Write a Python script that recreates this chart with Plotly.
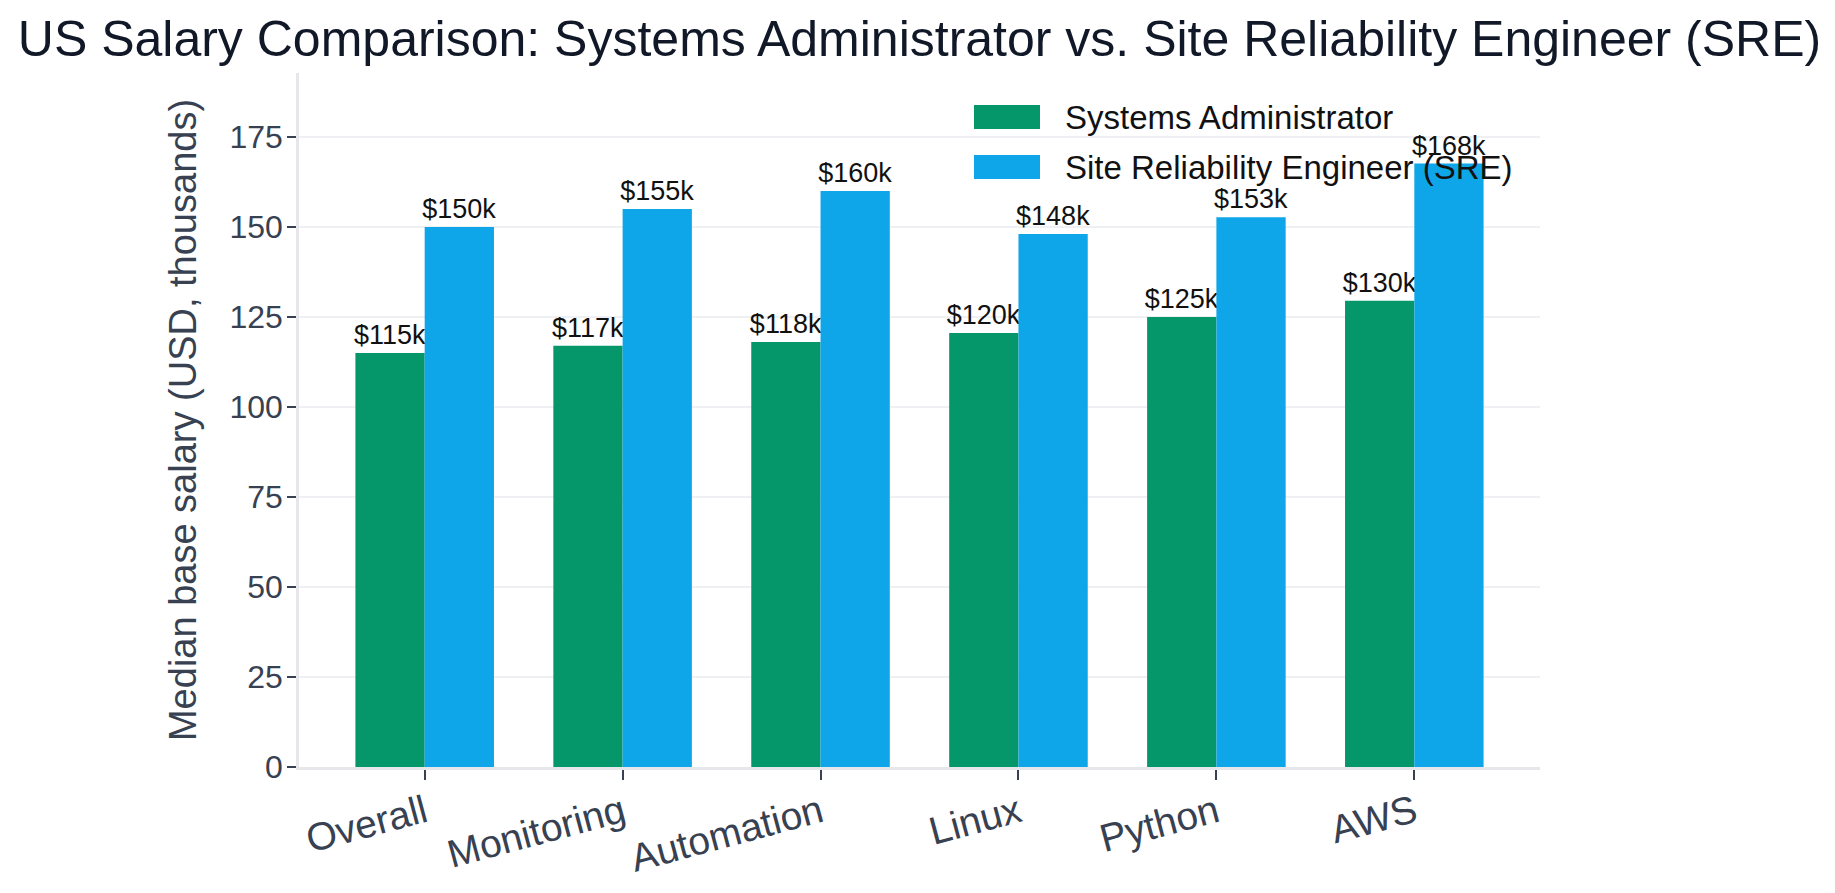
import plotly.graph_objects as go

categories = ["Overall", "Monitoring", "Automation", "Linux", "Python", "AWS"]
sysadmin = [115, 117, 118, 120.5, 125, 129.5]
sre = [150, 155, 160, 148, 152.7, 167.6]
series_names = ["Systems Administrator", "Site Reliability Engineer (SRE)"]
colors = ["#059669", "#0EA5E9"]
y_ticks = [0, 25, 50, 75, 100, 125, 150, 175]

FONT = "Liberation Sans, Arial, Helvetica, sans-serif"
W, H = 1835, 893
ML, MR, MT, MB = 299, 295, 73, 126

fig = go.Figure()
for name, vals, col in zip(series_names, [sysadmin, sre], colors):
    fig.add_trace(go.Bar(
        x=categories, y=vals, name=name, marker_color=col, marker_line_width=0,
        text=[f"${v:.0f}k" for v in vals], textposition="outside",
        textfont=dict(size=27, color="#111111", family=FONT),
        constraintext="none", cliponaxis=False, showlegend=False,
    ))

ymax = max(sysadmin + sre) * 1.15

fig.update_layout(
    width=W, height=H,
    margin=dict(l=ML, r=MR, t=MT, b=MB, pad=0),
    paper_bgcolor="white", plot_bgcolor="white",
    barmode="group", bargap=0.3, bargroupgap=0,
    font=dict(family=FONT, color="#374151"),
    title=dict(text="US Salary Comparison: Systems Administrator vs. Site Reliability Engineer (SRE)",
               x=0.5, xanchor="center", xref="paper", y=0.957, yanchor="middle", yref="container",
               font=dict(size=50, color="#111827", family=FONT)),
    xaxis=dict(range=[-0.635, len(categories) - 1 + 0.635], showgrid=False,
               showline=True, linecolor="#E5E7EB", linewidth=2.5,
               ticks="outside", ticklen=10, tickwidth=2, tickcolor="#374151",
               ticklabelstandoff=-5,
               tickangle=-15, tickfont=dict(size=39, color="#374151"), zeroline=False),
    yaxis=dict(range=[0, ymax], tickvals=y_ticks, showgrid=True, gridcolor="#EEF0F3", gridwidth=2,
               showline=True, linecolor="#E5E7EB", linewidth=2.5, zeroline=False,
               ticks="outside", ticklen=9, tickwidth=2, tickcolor="#374151",
               ticklabelstandoff=-2,
               tickfont=dict(size=32, color="#374151"),
               title=dict(text="Median base salary (USD, thousands)", font=dict(size=38, color="#374151"),
                          standoff=22)),
)

# custom legend (large swatches like the reference)
pw = W - ML - MR
ph = H - MT - MB
def px_x(p):
    return (p - ML) / pw
def px_y(p):
    return (H - MB - p) / ph

legend_rows = [117, 167]
for name, col, cy in zip(series_names, colors, legend_rows):
    fig.add_shape(type="rect", xref="paper", yref="paper",
                  x0=px_x(974), x1=px_x(1040), y0=px_y(cy - 12), y1=px_y(cy + 12),
                  fillcolor=col, line_width=0, layer="above")
    fig.add_annotation(xref="paper", yref="paper", x=px_x(1063), y=px_y(cy),
                       text=name, showarrow=False, xanchor="left", yanchor="middle",
                       font=dict(size=33, color="#111111", family=FONT))

fig.write_html("out.html")
